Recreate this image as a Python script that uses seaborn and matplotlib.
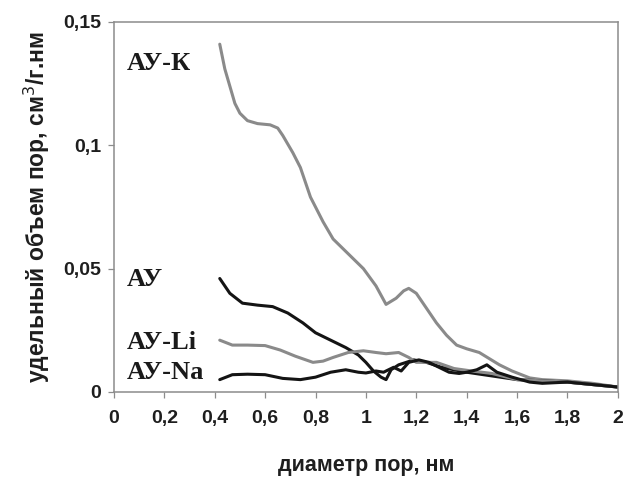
import pandas as pd
import matplotlib
matplotlib.use("Agg")
import matplotlib.pyplot as plt
import seaborn as sns

# pore-size distributions (x: pore diameter, nm; y: cm3/g.nm)
AUK_X = [0.42, 0.43, 0.44, 0.46, 0.48, 0.50, 0.53, 0.57, 0.62, 0.65, 0.67, 0.71, 0.74, 0.78,
         0.83, 0.87, 0.93, 0.99, 1.04, 1.08, 1.12, 1.15, 1.17, 1.20, 1.24, 1.28, 1.32, 1.36,
         1.40, 1.45, 1.49, 1.53, 1.58, 1.65, 1.70, 1.80, 1.90, 2.00]
AUK_Y = [0.141, 0.136, 0.131, 0.124, 0.117, 0.113, 0.110, 0.1088, 0.1083, 0.1070, 0.104,
         0.097, 0.091, 0.079, 0.069, 0.062, 0.056, 0.050, 0.043, 0.0355, 0.038, 0.041, 0.042,
         0.040, 0.034, 0.028, 0.023, 0.019, 0.0175, 0.016, 0.0135, 0.011, 0.0085, 0.0057,
         0.005, 0.0045, 0.0035, 0.002]

AU_X = [0.42, 0.46, 0.51, 0.57, 0.63, 0.69, 0.75, 0.80, 0.86, 0.92, 0.97, 1.00, 1.03, 1.06,
        1.08, 1.10, 1.13, 1.16, 1.19, 1.24, 1.30, 1.40, 1.50, 1.60, 1.70, 1.80, 1.90, 2.00]
AU_Y = [0.046, 0.040, 0.036, 0.0352, 0.0346, 0.032, 0.028, 0.024, 0.021, 0.018, 0.015, 0.012,
        0.0085, 0.006, 0.005, 0.009, 0.011, 0.012, 0.013, 0.012, 0.010, 0.008, 0.0065, 0.005,
        0.0045, 0.004, 0.003, 0.002]

ALI_X = [0.42, 0.47, 0.53, 0.60, 0.66, 0.72, 0.79, 0.83, 0.87, 0.93, 0.99, 1.04, 1.08, 1.13,
         1.17, 1.20, 1.28, 1.35, 1.42, 1.50, 1.60, 1.70, 1.80, 1.90, 2.00]
ALI_Y = [0.021, 0.019, 0.019, 0.0188, 0.017, 0.0145, 0.012, 0.0125, 0.014, 0.016, 0.0167,
         0.016, 0.0155, 0.016, 0.014, 0.012, 0.012, 0.0095, 0.0085, 0.0075, 0.005, 0.0045,
         0.004, 0.003, 0.002]

ANA_X = [0.42, 0.47, 0.53, 0.60, 0.67, 0.74, 0.80, 0.86, 0.92, 0.97, 1.00, 1.04, 1.07, 1.11,
         1.14, 1.17, 1.21, 1.25, 1.29, 1.33, 1.37, 1.40, 1.44, 1.48, 1.52, 1.58, 1.65, 1.70,
         1.80, 1.90, 2.00]
ANA_Y = [0.005, 0.007, 0.0072, 0.007, 0.0055, 0.005, 0.006, 0.008, 0.009, 0.008, 0.0077,
         0.0085, 0.008, 0.010, 0.0085, 0.012, 0.013, 0.012, 0.010, 0.008, 0.0075, 0.008,
         0.009, 0.011, 0.008, 0.006, 0.004, 0.0035, 0.004, 0.003, 0.002]

SERIES = ["АУ-К", "АУ", "АУ-Li", "АУ-Na"]
LABEL_Y = [0.133, 0.0455, 0.020, 0.0077]

X_TICKS = [0, 0.2, 0.4, 0.6, 0.8, 1.0, 1.2, 1.4, 1.6, 1.8, 2.0]
X_LABELS = ["0", "0,2", "0,4", "0,6", "0,8", "1", "1,2", "1,4", "1,6", "1,8", "2"]
Y_TICKS = [0, 0.05, 0.1, 0.15]
Y_LABELS = ["0", "0,05", "0,1", "0,15"]

GRAY = "#8a8a8a"
BLACK = "#141414"
AXIS_GRAY = "#8c8c8c"

sns.set_theme(style="white")
plt.rcParams["font.family"] = ["Liberation Sans", "DejaVu Sans"]

frames = []
for name, xs, ys in [("АУ-К", AUK_X, AUK_Y), ("АУ", AU_X, AU_Y),
                     ("АУ-Li", ALI_X, ALI_Y), ("АУ-Na", ANA_X, ANA_Y)]:
    frames.append(pd.DataFrame({"d": xs, "v": ys, "sample": name}))
data = pd.concat(frames, ignore_index=True)
palette = {"АУ-К": GRAY, "АУ": BLACK, "АУ-Li": GRAY, "АУ-Na": BLACK}

fig = plt.figure(figsize=(6.26, 4.78), dpi=100)
ax = fig.add_axes([0.182, 0.180, 0.805, 0.774])

sns.lineplot(data=data, x="d", y="v", hue="sample", palette=palette, estimator=None,
             sort=False, linewidth=2.2, legend=False, ax=ax)

for name, ly in zip(SERIES, LABEL_Y):
    ax.text(0.05, ly, name, family="Liberation Serif", fontweight="bold", fontsize=19,
            color="#1a1a1a", va="center", ha="left")

ax.set_xlim(0, 2)
ax.set_ylim(0, 0.15)
ax.set_xticks(X_TICKS)
ax.set_xticklabels(X_LABELS)
ax.set_yticks(Y_TICKS)
ax.set_yticklabels(Y_LABELS)
for lab in ax.get_xticklabels() + ax.get_yticklabels():
    lab.set_fontweight("bold")
    lab.set_fontsize(14)
    lab.set_color("#1e1e1e")
ax.tick_params(axis="both", direction="out", length=4, width=0.9, color=AXIS_GRAY,
               bottom=True, left=True)
ax.tick_params(axis="x", pad=9)
ax.tick_params(axis="y", pad=5)

ax.set_xlabel("диаметр пор, нм", fontsize=15.5, fontweight="bold", color="#1e1e1e",
              labelpad=20)
ax.set_ylabel("удельный объем пор, см$^3$/г.нм", fontsize=16.5, fontweight="bold",
              color="#1e1e1e", labelpad=8)

for sp in ax.spines.values():
    sp.set_color(AXIS_GRAY)
    sp.set_linewidth(1.1)
    sp.set_visible(True)

fig.savefig("out.png", dpi=100)
